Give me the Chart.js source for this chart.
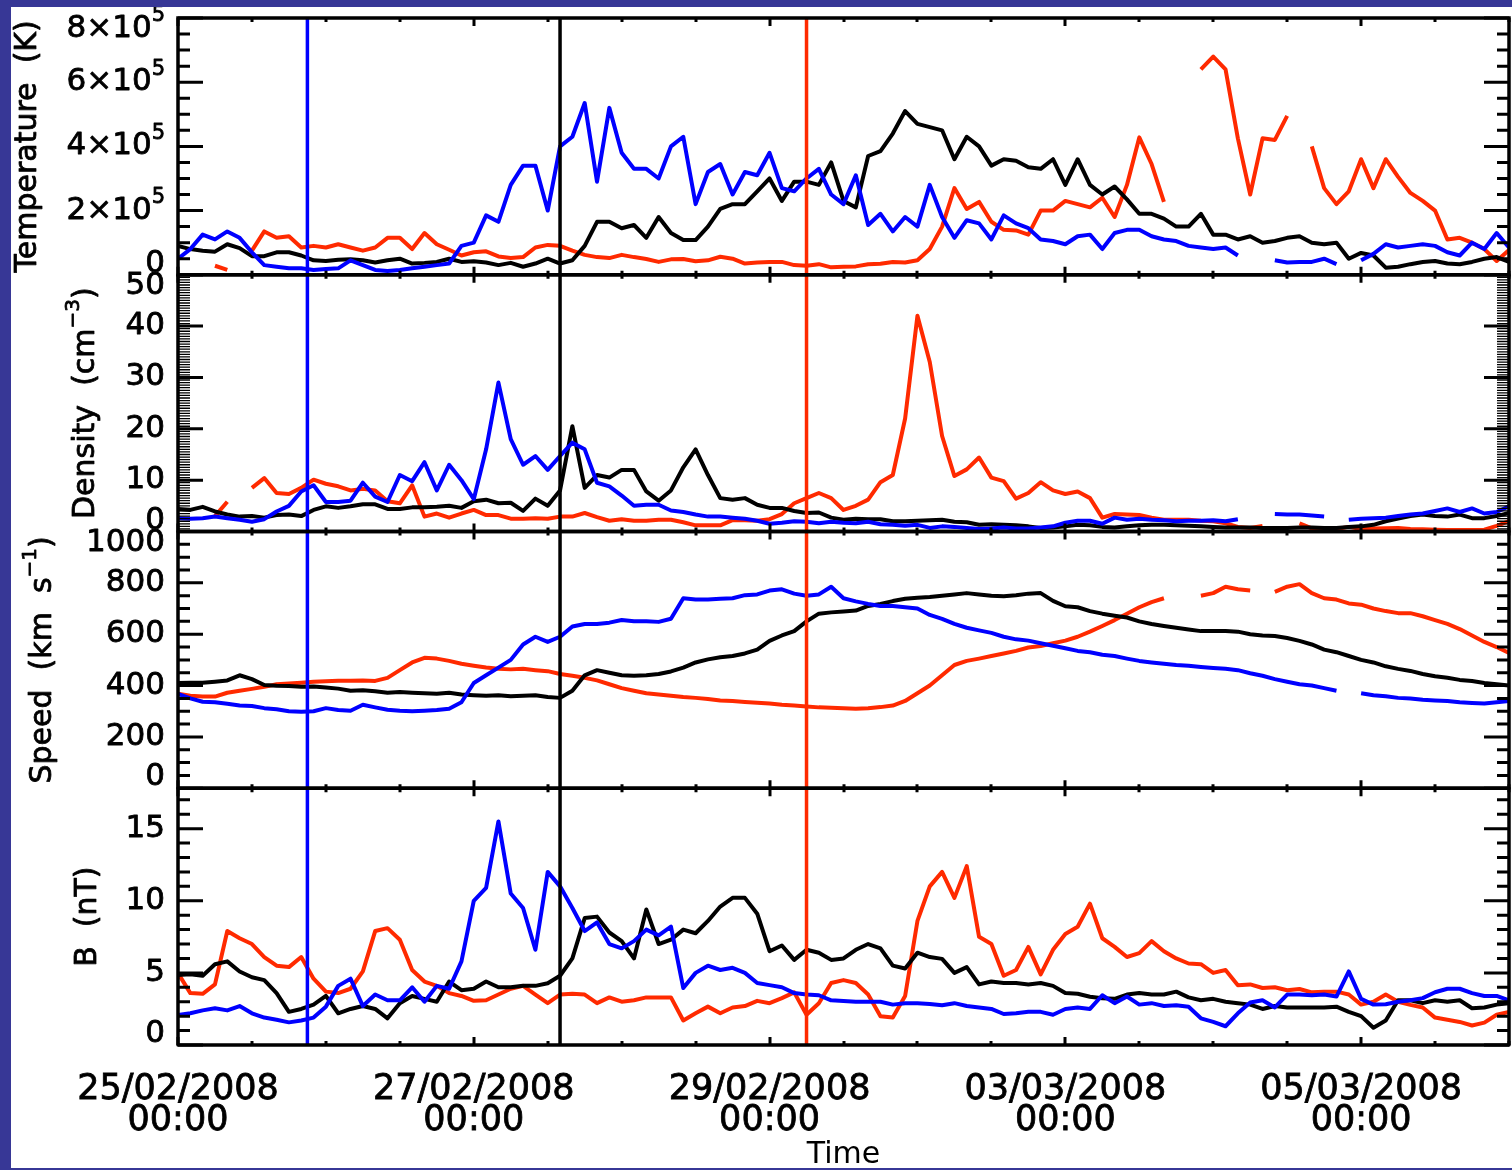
<!DOCTYPE html>
<html lang="en">
  <head>
    <meta charset="UTF-8" />
    <title>Solar wind parameters 25/02 - 06/03/2008</title>
  </head>
  <style>
    * {
      margin: 0;
      padding: 0;
    }
    body {
      width: 1512px;
      height: 1170px;
      background: #373796;
      overflow: hidden;
    }
    .chartBox {
      position: absolute;
      left: 11px;
      top: 7px;
      width: 1501px;
      height: 1161px;
      background: white;
    }
  </style>
  <body>
    <div class="chartBox">
      <canvas id="myChart" width="1501" height="1161"></canvas>
    </div>

    <script src="https://cdn.jsdelivr.net/npm/chart.js"></script>

    <script>
      // time grid: hours after 25/02/2008 00:00, one sample every 2 h
      const hours = Array.from({ length: 109 }, (_, i) => i * 2);

      // x tick labels, one every 48 h
      const dateLabels = [
        ["25/02/2008", "00:00"],
        ["27/02/2008", "00:00"],
        ["29/02/2008", "00:00"],
        ["03/03/2008", "00:00"],
        ["05/03/2008", "00:00"]
      ];

      // event times (hours) for the blue, black and red markers
      const eventBlue = 21;
      const eventBlack = 62;
      const eventRed = 102;

      // temperature, units of 10^5 K
      const tempBlack = [
        0.9, 0.8, 0.75, 0.72, 0.95, 0.83, 0.58, 0.58, 0.7, 0.7, 0.6, 0.45, 0.43, 0.47, 0.48, 0.45, 0.38, 0.45, 0.5,
        0.35, 0.37, 0.4, 0.5, 0.4, 0.42, 0.38, 0.3, 0.37, 0.25, 0.35, 0.5, 0.35, 0.45, 0.9, 1.65, 1.65, 1.45, 1.55, 1.15, 1.8, 1.3, 1.08, 1.08, 1.5, 2.05, 2.2, 2.2, 2.6, 3.0, 2.3, 2.9,
        2.9, 2.8, 3.5, 2.3, 2.1, 3.7, 3.85, 4.4, 5.1, 4.7, 4.6, 4.5, 3.6, 4.3, 4.0, 3.4, 3.6, 3.55, 3.35, 3.3, 3.6, 2.8, 3.6, 2.8, 2.5, 2.75, 2.35, 1.9, 1.9, 1.75, 1.5, 1.5, 1.9,
        1.25, 1.25, 1.1, 1.2, 1.0, 1.05, 1.15, 1.2, 1.0, 0.95, 1.0, 0.5, 0.68, 0.6, 0.22, 0.25, 0.33, 0.4, 0.43, 0.35, 0.33, 0.4, 0.5, 0.55, 0.4
      ];
      const tempBlue = [
        0.5, 0.8, 1.25, 1.1, 1.35, 1.15, 0.7, 0.3, 0.25, 0.2, 0.2, 0.15, 0.18, 0.2, 0.45, 0.3, 0.15, 0.12, 0.15,
        0.2, 0.25, 0.3, 0.35, 0.9, 1.0, 1.85, 1.65, 2.8, 3.4, 3.4, 2.0, 4.0, 4.3, 5.35, 2.9, 5.2, 3.8, 3.3, 3.3, 3.0, 4.0, 4.3, 2.2, 3.2, 3.45, 2.5, 3.2, 3.1, 3.8, 2.7, 2.6,
        3.0, 3.3, 2.5, 2.2, 3.1, 1.55, 1.9, 1.35, 1.8, 1.5, 2.8, 1.8, 1.15, 1.7, 1.6, 1.1, 1.85, 1.6, 1.45, 1.1, 1.05, 0.95, 1.2, 1.25, 0.8, 1.3, 1.4, 1.4, 1.2, 1.1, 1.05, 0.9, 0.85,
        0.8, 0.85, 0.6, null, null, 0.45, 0.38, 0.4, 0.4, 0.5, 0.33, null, 0.45, 0.65, 0.95, 0.85, 0.9, 0.95, 0.9, 0.7, 0.6, 1.0, 0.8, 1.3, 0.85
      ];
      const tempRed = [
        null, null, null, 0.28, 0.15, null, 0.75, 1.35, 1.15, 1.2, 0.85, 0.9, 0.85, 0.95, 0.85, 0.75, 0.85, 1.15, 1.15,
        0.8, 1.3, 0.95, 0.78, 0.6, 0.7, 0.73, 0.57, 0.52, 0.55, 0.85, 0.93, 0.9, 0.75, 0.62, 0.55, 0.52, 0.62, 0.55, 0.49, 0.4, 0.48, 0.49, 0.42, 0.45, 0.56, 0.5, 0.35, 0.38, 0.4, 0.4, 0.3,
        0.28, 0.33, 0.23, 0.25, 0.26, 0.33, 0.34, 0.4, 0.38, 0.45, 0.8, 1.5, 2.7, 2.05, 2.27, 1.65, 1.4, 1.38, 1.25, 2.0, 2.0, 2.3, 2.2, 2.1, 2.4, 1.8, 2.8, 4.28, 3.45, 2.27, null, null, 6.4,
        6.8, 6.4, 4.25, 2.5, 4.25, 4.2, 4.95, null, 4.0, 2.7, 2.2, 2.6, 3.6, 2.7, 3.6, 3.05, 2.55, 2.3, 2.0, 1.1, 1.15, 1.0, 0.8, 0.43, 0.77
      ];

      // density, cm^-3
      const densBlack = [
        4.4, 4.2, 4.8, 3.9, 3.3, 2.9, 3.0, 2.7, 3.2, 3.3, 3.0, 4.2, 4.9, 4.6, 4.9, 5.3, 5.3, 4.4, 4.4, 4.7, 4.7, 4.8, 5.0, 4.6, 5.9, 6.2, 5.5,
        5.6, 4.0, 6.4, 5.0, 8.0, 20.5, 8.5, 11.0, 10.5, 12.0, 12.0, 7.8, 6.0, 8.0, 12.5, 16.0, 11.0, 6.5, 6.2, 6.5, 5.2, 4.6, 4.6, 4.0, 3.6, 3.7, 2.7,
        2.3, 2.5, 2.4, 2.4, 2.0, 2.0, 2.1, 2.2, 2.3, 1.9, 1.8, 1.3, 1.4, 1.3, 1.2, 1.0, 0.7, 0.8, 1.0, 1.3, 1.2, 0.9, 0.8, 1.0, 1.2, 1.3, 1.3,
        1.2, 1.1, 1.0, 0.9, 0.8, 0.8, 0.8, 0.7, 0.7, 0.7, 0.8, 0.8, 0.7, 0.7, 0.9, 1.0, 1.3, 2.0, 2.5, 3.0, 3.3, 3.0, 2.9, 3.3, 2.6, 2.6, 3.0, 3.6
      ];
      const densBlue = [
        2.6, 2.5, 2.6, 2.9, 2.6, 2.3, 1.9, 2.4, 3.9, 5.0, 7.8, 9.0, 5.75, 5.75, 6.0, 9.5, 6.8, 5.75, 11.0, 9.8, 13.5, 8.0, 13.0, 10.0, 6.3, 16.0, 29.0,
        18.0, 13.0, 14.7, 12.0, 14.7, 17.3, 16.0, 9.5, 8.8, 7.0, 5.0, 5.2, 5.2, 4.1, 3.8, 3.3, 2.9, 2.9, 2.7, 2.5, 2.1, 1.5, 1.7, 2.0, 1.9, 1.6, 1.9,
        1.7, 1.6, 1.9, 1.4, 1.3, 1.1, 1.3, 0.7, 1.0, 0.9, 0.7, 0.5, 0.6, 0.8, 0.6, 0.6, 0.8, 1.0, 1.7, 2.1, 2.1, 1.5, 2.7, 2.3, 2.5, 2.3, 2.2,
        2.0, 2.1, 2.1, 2.2, 2.0, 2.4, null, null, 3.4, 3.3, 3.3, 3.1, 2.9, null, 2.3, 2.5, 2.6, 2.7, 3.0, 3.3, 3.5, 4.0, 4.5, 3.8, 4.5, 3.5, 3.8, 4.9
      ];
      const densRed = [
        null, null, null, 3.0, 5.8, null, 8.5, 10.4, 7.5, 7.3, 8.5, 10.1, 9.3, 8.8, 8.0, 8.3, 8.0, 5.9, 5.5, 9.0, 2.9, 3.5, 2.7, 3.5, 4.2, 3.2, 3.2,
        2.5, 2.5, 2.6, 2.5, 2.9, 2.9, 3.6, 2.8, 2.1, 2.4, 2.1, 2.1, 2.3, 2.3, 1.8, 1.2, 1.2, 1.2, 2.2, 2.2, 2.1, 2.4, 3.4, 5.5, 6.5, 7.5, 6.5,
        4.2, 5.0, 6.2, 9.6, 11.0, 22.0, 42.0, 33.0, 18.6, 10.8, 12.1, 14.4, 10.5, 9.8, 6.4, 7.5, 9.6, 8.0, 7.3, 7.8, 6.5, 2.7, 3.4, 3.3, 3.2, 2.7, 2.3,
        2.3, 2.3, 2.1, 2.0, 1.6, 0.9, 0.7, 1.1, null, null, 1.6, 0.6, 0.5, 0.5, 0.9, 0.5, 0.6, 0.65, 0.7, 0.5, 0.45, 0.35, 0.3, 0.3, 0.3, 0.35, 1.1, 2.0
      ];

      // speed, km/s
      const speedBlack = [
        410, 411, 411, 415, 420, 440, 425, 402, 399, 398, 395, 396, 392, 388, 380, 382, 378, 372, 375, 372, 370, 368, 372, 365, 362, 360, 362,
        358, 360, 362, 355, 352, 380, 440, 460, 450, 440, 438, 440, 445, 455, 470, 490, 502, 510, 515, 525, 540, 574, 595, 612, 650, 680, 685,
        688, 692, 710, 718, 729, 738, 742, 745, 750, 755, 760, 755, 750, 748, 752, 758, 760, 730, 709, 705, 690, 680, 672, 665, 650, 640, 632,
        625, 618, 612, 612, 612, 610, 600, 595, 593, 585, 574, 560, 540, 530, 515, 500, 490, 475, 465, 457, 445, 436, 430, 422, 418, 410, 405, 400
      ];
      const speedBlue = [
        368, 350, 337, 335, 329, 322, 320, 312, 308, 300, 298, 300, 312, 305, 302, 325, 315, 306, 302, 300, 302, 305, 310, 335, 410, 440, 470,
        500, 560, 590, 570, 590, 630, 640, 640, 645, 655, 650, 650, 648, 660, 740, 735, 735, 738, 740, 752, 755, 770, 775, 758, 750, 755, 785,
        740, 728, 718, 710, 710, 705, 700, 675, 660, 640, 625, 615, 605, 590, 580, 575, 565, 555, 545, 535, 530, 520, 515, 505, 496, 490, 485,
        480, 477, 472, 468, 465, 460, 448, 438, 425, 415, 405, 400, 390, 380, null, 370, 362, 358, 352, 350, 345, 342, 340, 335, 332, 330, 335, 340
      ];
      const speedRed = [
        368, 360, 357, 357, 372, 380, 387, 395, 405, 408, 411, 415, 417, 419, 419, 420, 418, 430, 460, 490, 508, 505, 496, 485, 477, 470, 465,
        463, 465, 460, 456, 445, 438, 430, 420, 405, 390, 380, 370, 365, 360, 355, 352, 348, 342, 340, 336, 333, 330, 325, 322, 318, 315, 314,
        312, 310, 312, 316, 322, 340, 370, 400, 440, 480, 496, 505, 515, 525, 535, 548, 554, 565, 575, 590, 610, 632, 655, 680, 705, 725, 740,
        null, null, 750, 760, 785, 775, 770, null, 765, 785, 795, 760, 740, 735, 720, 715, 700, 690, 682, 682, 670, 655, 640, 620, 595, 570, 550, 527
      ];

      // magnetic field, nT
      const bBlack = [
        4.86, 4.9, 4.8, 5.6, 5.8, 5.1, 4.7, 4.5, 3.6, 2.3, 2.5, 2.8, 3.4, 2.2, 2.5, 2.7, 2.5, 1.85, 2.9, 3.4, 3.2, 3.0, 4.4, 3.8, 3.9, 4.4, 4.0,
        4.0, 4.1, 4.1, 4.28, 4.8, 6.0, 8.8, 8.9, 7.8, 7.2, 6.0, 9.4, 7.0, 7.3, 8.0, 7.75, 8.6, 9.6, 10.2, 10.2, 9.1, 6.5, 6.9, 5.9, 6.6, 6.4, 5.9,
        6.0, 6.6, 7.0, 6.7, 5.5, 5.3, 6.4, 6.1, 5.97, 5.0, 5.4, 4.2, 4.4, 4.3, 4.3, 4.2, 4.3, 4.1, 3.6, 3.55, 3.35, 3.24, 3.2, 3.5, 3.6, 3.5, 3.5,
        3.7, 3.3, 3.1, 3.2, 3.0, 2.9, 2.8, 2.5, 2.7, 2.6, 2.6, 2.6, 2.6, 2.66, 2.3, 2.0, 1.2, 1.7, 3.1, 3.1, 2.9, 3.1, 3.0, 3.1, 2.55, 2.6, 2.8, 2.9
      ];
      const bBlue = [
        2.08, 2.2, 2.4, 2.55, 2.4, 2.7, 2.2, 1.9, 1.75, 1.57, 1.7, 1.9, 2.66, 4.1, 4.6, 2.7, 3.5, 3.1, 3.1, 4.0, 3.0, 4.1, 3.9, 5.8, 10.0, 10.9, 15.5,
        10.5, 9.5, 6.6, 12.0, 11.0, 9.5, 7.9, 8.5, 7.0, 6.7, 7.2, 8.0, 7.6, 8.2, 3.95, 5.0, 5.5, 5.2, 5.35, 5.0, 4.3, 4.15, 4.0, 3.6, 3.5, 3.45, 3.1,
        3.05, 3.0, 3.0, 3.0, 2.8, 2.9, 2.9, 2.85, 2.75, 2.9, 2.7, 2.6, 2.5, 2.15, 2.2, 2.3, 2.3, 2.1, 2.5, 2.6, 2.5, 3.45, 2.9, 3.36, 2.8, 2.9, 2.7,
        2.75, 2.65, 1.85, 1.6, 1.3, 2.2, 2.95, 3.1, 2.6, 3.5, 3.5, 3.45, 3.5, 3.36, 5.1, 3.2, 2.8, 2.82, 3.0, 3.1, 3.25, 3.66, 3.9, 3.9, 3.6, 3.4, 3.4, 3.1
      ];
      const bRed = [
        4.98, 3.6, 3.55, 4.2, 7.9, 7.4, 7.0, 6.1, 5.5, 5.4, 6.1, 4.6, 3.7, 3.6, 3.9, 5.1, 7.9, 8.1, 7.3, 5.2, 4.4, 4.1, 3.6, 3.4, 3.06, 3.1, 3.5,
        3.9, 4.1, 3.5, 2.9, 3.5, 3.55, 3.5, 2.9, 3.3, 3.0, 3.1, 3.3, 3.3, 3.3, 1.7, 2.2, 2.66, 2.2, 2.6, 2.7, 3.06, 2.9, 3.25, 3.65, 2.1, 2.9, 4.3,
        4.5, 4.3, 3.5, 2.0, 1.9, 3.4, 8.6, 11.0, 12.0, 10.2, 12.4, 7.5, 7.0, 4.8, 5.2, 6.8, 4.9, 6.6, 7.7, 8.2, 9.8, 7.4, 6.8, 6.1, 6.37, 7.2, 6.5,
        6.0, 5.65, 5.6, 5.0, 5.2, 4.15, 4.2, 3.95, 4.0, 3.8, 3.88, 3.65, 3.7, 3.7, 3.5, 2.8, 3.0, 3.5, 3.0, 2.78, 2.6, 1.9, 1.75, 1.6, 1.35, 1.55, 2.1, 2.3
      ];

      // y tick values and labels of each panel
      const tempTicks = [0, 2, 4, 6, 8];
      const tempTickLabels = ["0", "2×10^{5}", "4×10^{5}", "6×10^{5}", "8×10^{5}"];
      const densTicks = [0, 10, 20, 30, 40, 50];
      const densTickLabels = ["0", "10", "20", "30", "40", "50"];
      const speedTicks = [0, 200, 400, 600, 800, 1000];
      const speedTickLabels = ["0", "200", "400", "600", "800", "1000"];
      const bTicks = [0, 5, 10, 15];
      const bTickLabels = ["0", "5", "10", "15"];

      const RED = "#ff2a00";
      const BLUE = "#0000ff";
      const BLACK = "#000000";
      const FONT = "DejaVu Sans";

      // panel setup (top to bottom)
      const panels = [
        { id: "yT", min: 0, max: 8, major: 2, minor: 0.5, minorWidth: 3, ticks: tempTicks, labels: tempTickLabels, title: "Temperature  (K)", titleOff: 150 },
        { id: "yD", min: 0, max: 50, major: 10, minor: 0.5, minorWidth: 1.3, ticks: densTicks, labels: densTickLabels, title: "Density  (cm^{−3})", titleOff: 92 },
        { id: "yS", min: 0, max: 1000, major: 200, minor: 50, minorWidth: 3, ticks: speedTicks, labels: speedTickLabels, title: "Speed  (km  s^{−1})", titleOff: 135 },
        { id: "yB", min: 0, max: 17.8, major: 5, minor: 1, minorWidth: 3, ticks: bTicks, labels: bTickLabels, title: "B  (nT)", titleOff: 90 }
      ];

      const series = [
        { axis: "yT", values: tempRed, color: RED, order: 3 },
        { axis: "yT", values: tempBlack, color: BLACK, order: 2 },
        { axis: "yT", values: tempBlue, color: BLUE, order: 1 },
        { axis: "yD", values: densRed, color: RED, order: 3 },
        { axis: "yD", values: densBlack, color: BLACK, order: 2 },
        { axis: "yD", values: densBlue, color: BLUE, order: 1 },
        { axis: "yS", values: speedRed, color: RED, order: 3 },
        { axis: "yS", values: speedBlack, color: BLACK, order: 2 },
        { axis: "yS", values: speedBlue, color: BLUE, order: 1 },
        { axis: "yB", values: bRed, color: RED, order: 3 },
        { axis: "yB", values: bBlack, color: BLACK, order: 2 },
        { axis: "yB", values: bBlue, color: BLUE, order: 1 }
      ];

      const datasets = series.map((s) => ({
        data: hours.map((h, i) => ({ x: h, y: s.values[i] })),
        yAxisID: s.axis,
        borderColor: s.color,
        borderWidth: 4,
        pointRadius: 0,
        order: s.order
      }));

      // event markers run through all four panels
      [[eventBlue, BLUE], [eventBlack, BLACK], [eventRed, RED]].forEach(([t, c]) => {
        datasets.push({
          data: [{ x: t, y: 0 }, { x: t, y: 1 }],
          yAxisID: "yv",
          borderColor: c,
          borderWidth: 3.5,
          pointRadius: 0,
          order: 0
        });
      });

      // text with ^{...} superscripts
      function parseRuns(str) {
        const runs = [];
        const re = /\^\{([^}]*)\}/g;
        let last = 0, m;
        while ((m = re.exec(str))) {
          if (m.index > last) runs.push({ t: str.slice(last, m.index), sup: false });
          runs.push({ t: m[1], sup: true });
          last = re.lastIndex;
        }
        if (last < str.length) runs.push({ t: str.slice(last), sup: false });
        return runs;
      }

      function drawRuns(ctx, str, x, y, align, size) {
        const runs = parseRuns(str);
        const base = size + "px '" + FONT + "'";
        const small = Math.round(size * 0.68) + "px '" + FONT + "'";
        let total = 0;
        runs.forEach((r) => {
          ctx.font = r.sup ? small : base;
          r.w = ctx.measureText(r.t).width;
          total += r.w;
        });
        let cx = align === "right" ? x - total : align === "center" ? x - total / 2 : x;
        ctx.textAlign = "left";
        ctx.textBaseline = "middle";
        ctx.lineWidth = 0.8;
        ctx.lineJoin = "round";
        runs.forEach((r) => {
          ctx.font = r.sup ? small : base;
          const ty = r.sup ? y - size * 0.42 : y;
          ctx.fillText(r.t, cx, ty);
          ctx.strokeText(r.t, cx, ty);
          cx += r.w;
        });
      }

      // frames, inward ticks, y labels and y titles of the panels
      const panelFrames = {
        id: "panelFrames",
        afterDatasetsDraw(chart) {
          const { ctx, scales } = chart;
          const xs = scales.x;
          const left = xs.left;
          const right = xs.right;
          ctx.save();
          ctx.strokeStyle = "#000";
          ctx.fillStyle = "#000";
          ctx.lineCap = "butt";

          panels.forEach((p) => {
            const ys = scales[p.id];
            const top = ys.top;
            const bottom = ys.bottom;

            // x ticks on top and bottom edge
            ctx.lineWidth = 3;
            ctx.beginPath();
            for (let h = 0; h <= 216; h += 12) {
              const px = Math.round(xs.getPixelForValue(h));
              const len = h % 48 === 0 ? 8 : 4;
              ctx.moveTo(px, top);
              ctx.lineTo(px, top + len);
              ctx.moveTo(px, bottom);
              ctx.lineTo(px, bottom - len);
            }
            ctx.stroke();

            // y ticks on left and right edge
            const n = Math.floor((p.max - p.min) / p.minor + 1e-6);
            for (let i = 0; i <= n; i++) {
              const v = p.min + i * p.minor;
              const q = v / p.major;
              const major = Math.abs(q - Math.round(q)) < 1e-6;
              const py = ys.getPixelForValue(v);
              const len = major ? 25 : 12;
              ctx.lineWidth = major ? 3 : p.minorWidth;
              ctx.beginPath();
              ctx.moveTo(left, py);
              ctx.lineTo(left + len, py);
              ctx.moveTo(right, py);
              ctx.lineTo(right - len, py);
              ctx.stroke();
            }

            // frame
            ctx.lineWidth = 3.5;
            ctx.strokeRect(left, top, right - left, bottom - top);

            // tick labels, edge labels pulled inside the panel
            p.ticks.forEach((v, i) => {
              let py = ys.getPixelForValue(v);
              if (v === p.max) py += 11;
              if (v === p.min) py -= 11;
              drawRuns(ctx, p.labels[i], left - 13, py, "right", 31);
            });

            // rotated axis title
            ctx.save();
            ctx.translate(left - p.titleOff, (top + bottom) / 2);
            ctx.rotate(-Math.PI / 2);
            drawRuns(ctx, p.title, 0, 0, "center", 30);
            ctx.restore();
          });
          ctx.restore();
        }
      };

      const panelScale = (p, weight) => ({
        type: "linear",
        position: "left",
        stack: "panels",
        stackWeight: 1,
        weight: weight,
        min: p.min,
        max: p.max,
        ticks: { display: false },
        grid: { display: false },
        border: { display: false },
        afterFit: (s) => {
          s.width = 0;
        }
      });

      const config = {
        type: "line",
        data: { datasets },
        options: {
          responsive: false,
          animation: false,
          events: [],
          layout: { padding: { left: 167, right: 3, top: 11, bottom: 0 } },
          elements: { line: { tension: 0, borderJoinStyle: "round" } },
          plugins: {
            legend: { display: false },
            tooltip: { enabled: false }
          },
          scales: {
            x: {
              type: "linear",
              min: 0,
              max: 216,
              grid: { display: false },
              border: { display: false },
              ticks: {
                stepSize: 48,
                autoSkip: false,
                maxRotation: 0,
                padding: 21,
                color: "#000",
                textStrokeColor: "#000",
                textStrokeWidth: 0.8,
                font: { family: FONT, size: 35, lineHeight: 0.9 },
                callback: (v) => dateLabels[v / 48] || ""
              },
              title: {
                display: true,
                text: "Time",
                color: "#000",
                font: { family: FONT, size: 30, lineHeight: 0.8 },
                padding: { top: 0, bottom: 1 }
              },
              afterFit: (s) => {
                s.height = 123;
                s.paddingLeft = 0;
                s.paddingRight = 0;
              }
            },
            yT: panelScale(panels[0], 4),
            yD: panelScale(panels[1], 3),
            yS: panelScale(panels[2], 2),
            yB: panelScale(panels[3], 1),
            yv: { type: "linear", display: false, min: 0, max: 1 }
          }
        },
        plugins: [panelFrames]
      };

      const myChart = new Chart(document.getElementById("myChart"), config);
    </script>
  </body>
</html>
